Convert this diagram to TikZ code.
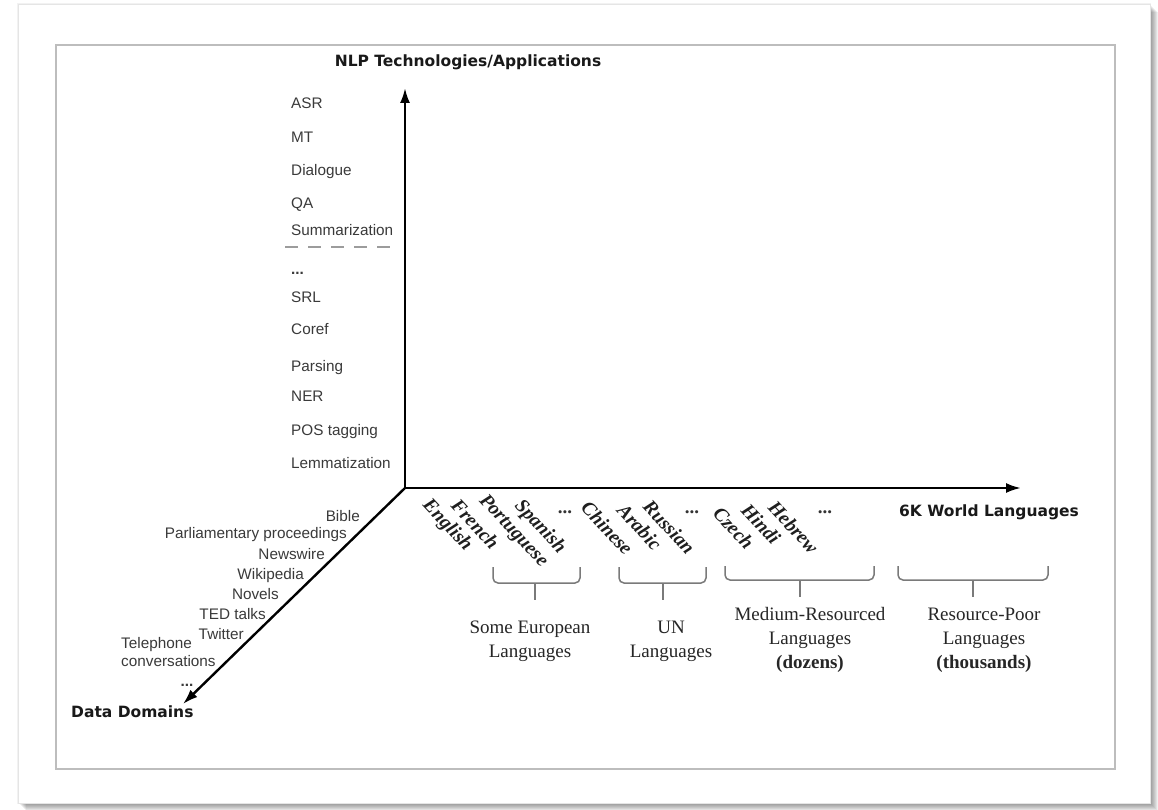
\documentclass[tikz,border=0pt]{standalone}
\usepackage{fontspec}
\setmainfont{Liberation Serif}
\newfontfamily\labelsans{Liberation Sans}
\newfontfamily\titlesans{DejaVu Sans}
\usetikzlibrary{arrows.meta}

\definecolor{frameline}{HTML}{BDBDBD}
\definecolor{labelgray}{HTML}{3A3A3A}
\definecolor{bracketgray}{HTML}{7A7A7A}
\definecolor{dashgray}{HTML}{9C9C9C}

\begin{document}
\begin{tikzpicture}[x=1pt,y=-1pt,
  axis/.style={line width=2.4pt, -{Latex[length=15pt,width=10pt]}},
  tech/.style={font=\labelsans\fontsize{15.3}{18.5}\selectfont, text=labelgray, anchor=base west, inner sep=0pt},
  domainlabel/.style={font=\labelsans\fontsize{15.3}{18.5}\selectfont, text=labelgray, anchor=base east, inner sep=0pt},
  axistitle/.style={font=\titlesans\bfseries\fontsize{15.5}{18}\selectfont, text=black!90, inner sep=0pt},
  lang/.style={font=\fontsize{19.6}{22}\selectfont\bfseries\itshape, text=black!88, rotate=-47, anchor=north west, inner sep=0pt},
  langdots/.style={font=\fontsize{19}{22}\selectfont\bfseries, text=black!80, inner sep=0pt},
  group/.style={font=\fontsize{19}{24}\selectfont, text=black!85, align=center, anchor=north, inner sep=0pt},
  brace/.style={draw=bracketgray, line width=1.5pt, rounded corners=5pt},
]
% page and card with its drop shadow
\useasboundingbox (0,0) rectangle (1158,810);
\fill[white] (0,0) rectangle (1158,810);
\foreach \i in {1,...,8}
  \fill[black, opacity=0.06] (18+\i,4+\i) rectangle (1150+\i,803+\i);
\fill[black, opacity=0.05] (17,3) rectangle (1151,804);
\filldraw[fill=white, draw=black!10, line width=0.6pt] (18,4) rectangle (1150,803);
\draw[frameline, line width=1.2pt] (56,45) rectangle (1115,769);

% axes
\coordinate (O) at (405,488);
\coordinate (Ytip) at (405,88);
\coordinate (Xtip) at (1021,488);
\coordinate (Ztip) at (183,704);
\draw[axis] (O) -- (Ytip);
\draw[axis] (O) -- (Xtip);
\draw[axis] (O) -- (Ztip);

% axis titles
\node[axistitle] (ytitle) at (468,62) {NLP Technologies/Applications};
\node[axistitle] (xtitle) at (989,512) {6K World Languages};
\node[axistitle, anchor=west] (ztitle) at (71,712) {Data Domains};

% technologies and applications
\node[tech] (asr) at (291,108.5) {ASR};
\node[tech] (mt) at (291,142.5) {MT};
\node[tech] (dialogue) at (291,175.5) {Dialogue};
\node[tech] (qa) at (291,208.5) {QA};
\node[tech] (summ) at (291,235.5) {Summarization};
\coordinate (sepL) at (285,247);
\coordinate (sepR) at (391,247);
\draw[dashgray, line width=2.6pt, dash pattern=on 13pt off 10pt] (sepL) -- (sepR);
\node[tech, font=\labelsans\bfseries\fontsize{15.3}{18.5}\selectfont] (techdots) at (291,274) {...};
\node[tech] (srl) at (291,302.5) {SRL};
\node[tech] (coref) at (291,334.5) {Coref};
\node[tech] (parsing) at (291,371.5) {Parsing};
\node[tech] (ner) at (291,401.5) {NER};
\node[tech] (pos) at (291,435.5) {POS tagging};
\node[tech] (lemma) at (291,468.5) {Lemmatization};

% data domains
\node[domainlabel] (bible) at (360,521.5) {Bible};
\node[domainlabel] (parl) at (347,538.5) {Parliamentary proceedings};
\node[domainlabel] (news) at (325,559.5) {Newswire};
\node[domainlabel] (wiki) at (304,579.5) {Wikipedia};
\node[domainlabel] (novels) at (279,599.5) {Novels};
\node[domainlabel] (ted) at (266,619.5) {TED talks};
\node[domainlabel] (twitter) at (244,639.5) {Twitter};
\node[domainlabel, anchor=north west, align=left] (phone) at (121,637) {Telephone\\conversations};
\node[domainlabel, anchor=base, font=\labelsans\bfseries\fontsize{15.3}{18.5}\selectfont] (domdots) at (187,686) {...};

% languages
\node[lang] (english) at (432,496) {English};
\node[lang] (french) at (460,497) {French};
\node[lang] (portuguese) at (488,492) {Portuguese};
\node[lang] (spanish) at (524,497) {Spanish};
\node[langdots] (eudots) at (565,512) {...};
\node[lang] (chinese) at (590,499) {Chinese};
\node[lang] (arabic) at (626,502) {Arabic};
\node[lang] (russian) at (652,498) {Russian};
\node[langdots] (undots) at (692,512) {...};
\node[lang] (czech) at (722,505) {Czech};
\node[lang] (hindi) at (750,502) {Hindi};
\node[lang] (hebrew) at (777,499) {Hebrew};
\node[langdots] (meddots) at (825,512) {...};

% language groups
\draw[brace] (493,567) -- (493,583) -- (580,583) -- (580,567);
\draw[brace] (535,583) -- (535,600);
\draw[brace] (619,567) -- (619,583) -- (706,583) -- (706,567);
\draw[brace] (663,583) -- (663,600);
\draw[brace] (725,566) -- (725,580) -- (874,580) -- (874,566);
\draw[brace] (800,580) -- (800,597);
\draw[brace] (898,566) -- (898,580) -- (1048,580) -- (1048,566);
\draw[brace] (973,580) -- (973,597);

\node[group] (european) at (530,621) {Some European\\Languages};
\node[group] (un) at (671,621) {UN\\Languages};
\node[group] (medium) at (810,607.5) {Medium-Resourced\\Languages\\\textbf{(dozens)}};
\node[group] (poor) at (984,607.5) {Resource-Poor\\Languages\\\textbf{(thousands)}};
\end{tikzpicture}
\end{document}
